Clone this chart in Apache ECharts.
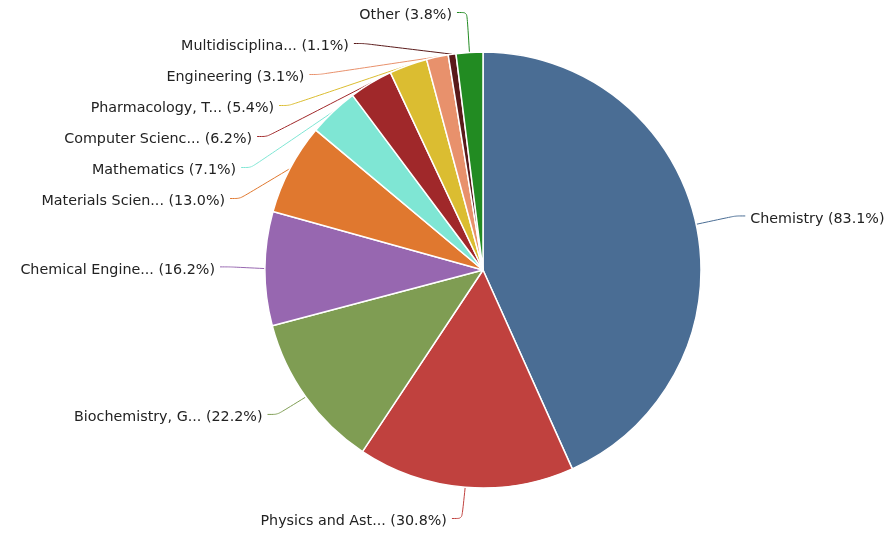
<!DOCTYPE html>
<html>
<head>
<meta charset="utf-8">
<script src="https://cdn.jsdelivr.net/npm/echarts@6/dist/echarts.min.js"></script>
<style>
  html, body { margin: 0; padding: 0; background: #fff; }
  #chart { width: 896px; height: 537px; }
</style>
</head>
<body>
<div id="chart"></div>
<script>
// Subject areas and their shares
const categories = [
  'Chemistry',
  'Physics and Ast...',
  'Biochemistry, G...',
  'Chemical Engine...',
  'Materials Scien...',
  'Mathematics',
  'Computer Scienc...',
  'Pharmacology, T...',
  'Engineering',
  'Multidisciplina...',
  'Other'
];
const shares = [83.1, 30.8, 22.2, 16.2, 13.0, 7.1, 6.2, 5.4, 3.1, 1.1, 3.8];
const sliceColors = [
  '#4a6d94', '#c0413e', '#7f9d53', '#9767b0', '#e0782f', '#7fe6d4',
  '#a0282a', '#dbbd31', '#e8916c', '#5a1a1a', '#228b22'
];

const chart = echarts.init(document.getElementById('chart'), null, { renderer: 'canvas' });
chart.setOption({
  animation: false,
  series: [{
    type: 'pie',
    center: [483, 270],
    radius: 218,
    startAngle: 90,
    clockwise: true,
    data: categories.map((name, i) => ({
      name,
      value: shares[i],
      itemStyle: { color: sliceColors[i] }
    })),
    itemStyle: { borderColor: '#fff', borderWidth: 1.5 },
    label: {
      show: true,
      formatter: p => `${p.name} (${p.value.toFixed(1)}%)`,
      fontFamily: 'DejaVu Sans',
      fontSize: 14.3,
      lineHeight: 17,
      padding: [6, 0, 6, 0],
      offset: [0, 3],
      color: '#222',
      distanceToLabelLine: 5
    },
    labelLine: {
      show: true,
      length: 40,
      length2: 10,
      smooth: 0.25,
      lineStyle: { width: 1 }
    },
    emphasis: { disabled: true }
  }]
});
</script>
</body>
</html>
